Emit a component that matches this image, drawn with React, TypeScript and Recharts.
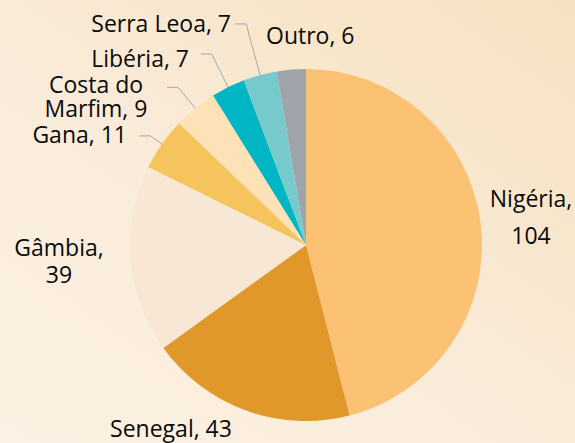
import { Cell, Pie, PieChart } from "recharts";

const countries = [
  "Nigéria",
  "Senegal",
  "Gâmbia",
  "Gana",
  "Costa do Marfim",
  "Libéria",
  "Serra Leoa",
  "Outro",
];
const counts = [104, 43, 39, 11, 9, 7, 7, 6];
const colors = [
  "#FBC274",
  "#E0982B",
  "#F9E7D6",
  "#F5C45C",
  "#FDE1B7",
  "#00B6C5",
  "#77CACC",
  "#9EA4AA",
];

const data = countries.map((name, i) => ({ name, value: counts[i] }));

const WIDTH = 575;
const HEIGHT = 443;
const CX = 306;
const CY = 245;
const RADIUS = 176;
const RADIAN = Math.PI / 180;

// label placement, offsets from the pie centre
type LabelLayout = {
  dx: number;
  dy: number;
  anchor: "start" | "middle" | "end";
  firstLineWords?: number;
  lineGap?: number;
  elbow?: number;
};

const labelLayout: LabelLayout[] = [
  { dx: 225, dy: -38, anchor: "middle", firstLineWords: 1, lineGap: 37 },
  { dx: -135, dy: 192, anchor: "middle" },
  { dx: -247, dy: 11, anchor: "middle", firstLineWords: 1, lineGap: 27 },
  { dx: -179, dy: -102, anchor: "end", elbow: 190 },
  { dx: -210, dy: -152, anchor: "middle", firstLineWords: 2, lineGap: 24, elbow: 203 },
  { dx: -117, dy: -178, anchor: "end", elbow: 213 },
  { dx: -75, dy: -213, anchor: "end", elbow: 229 },
  { dx: -40, dy: -201, anchor: "start" },
];

function SliceLabel(props: any) {
  const { index, midAngle } = props;
  const cx = props.cx ?? CX;
  const cy = props.cy ?? CY;
  const outer = props.outerRadius ?? RADIUS;
  const layout = labelLayout[index];
  const text = `${data[index].name}, ${data[index].value}`;
  const words = text.split(" ");
  const lines = layout.firstLineWords
    ? [words.slice(0, layout.firstLineWords).join(" "), words.slice(layout.firstLineWords).join(" ")]
    : [text];

  let leader = null;
  if (layout.elbow) {
    const cos = Math.cos(-midAngle * RADIAN);
    const sin = Math.sin(-midAngle * RADIAN);
    const sx = cx + outer * cos;
    const sy = cy + outer * sin;
    const ex = cx + layout.elbow * cos;
    const ey = cy + layout.elbow * sin;
    leader = (
      <polyline
        points={`${sx},${sy} ${ex},${ey} ${ex - 11},${ey}`}
        fill="none"
        stroke="#A3A7AB"
        strokeWidth={1}
      />
    );
  }

  return (
    <g>
      {leader}
      {lines.map((line, i) => (
        <text
          key={i}
          x={cx + layout.dx}
          y={cy + layout.dy + i * (layout.lineGap ?? 0)}
          textAnchor={layout.anchor}
          fill="#0A0A0A"
          fontSize={23}
          fontFamily="'Open Sans', sans-serif"
        >
          {line}
        </text>
      ))}
    </g>
  );
}

export default function App() {
  return (
    <div
      style={{
        position: "fixed",
        left: 0,
        top: 0,
        width: WIDTH,
        height: HEIGHT,
        background:
          "linear-gradient(35deg, #FCF1E2 0%, #FAECDA 45%, #F8E5C9 80%, #F7E1C2 100%)",
      }}
    >
      <PieChart
        width={WIDTH}
        height={HEIGHT}
        margin={{ top: 0, right: 0, bottom: 0, left: 0 }}
      >
        <Pie
          data={data}
          dataKey="value"
          nameKey="name"
          cx={CX}
          cy={CY}
          outerRadius={RADIUS}
          startAngle={90}
          endAngle={-270}
          stroke="none"
          label={SliceLabel}
          labelLine={false}
          isAnimationActive={false}
        >
          {data.map((entry, i) => (
            <Cell key={entry.name} fill={colors[i]} />
          ))}
        </Pie>
      </PieChart>
    </div>
  );
}
